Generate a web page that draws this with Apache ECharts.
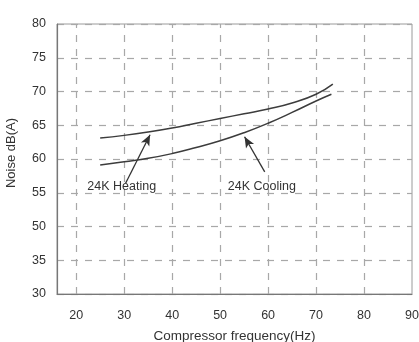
<!DOCTYPE html>
<html><head><meta charset="utf-8">
<script src="https://cdn.jsdelivr.net/npm/echarts@6/dist/echarts.min.js"></script>
<style>html,body{margin:0;padding:0;background:#fff}#c{width:419px;height:342px}</style>
</head><body><div id="c"></div>
<script>
const xTicks = [20, 30, 40, 50, 60, 70, 80, 90];
const xGrid = [20, 30, 40, 50, 60, 70, 80];
const yTickLabels = ['30', '35', '50', '55', '60', '65', '70', '75', '80'];
const heating = [[25,63.1],[30,63.5],[35,64.0],[40,64.6],[45,65.3],[50,66.0],[55,66.7],[60,67.4],[65,68.3],[70,69.6],[73.5,71.1]];
const cooling = [[25,59.1],[30,59.6],[35,60.1],[40,60.8],[45,61.7],[50,62.7],[55,63.9],[60,65.3],[65,66.9],[70,68.6],[73.2,69.6]];
const heatingLabel = {text: '24K Heating', at: [29.5, 55.85], arrowFrom: [30.3, 56.4], arrowTo: [35.4, 63.6]};
const coolingLabel = {text: '24K Cooling', at: [58.7, 55.85], arrowFrom: [59.3, 58.1], arrowTo: [55.1, 63.3]};

const font = 'Liberation Sans, Arial, sans-serif';
const chart = echarts.init(document.getElementById('c'), null, {renderer: 'canvas'});
const lineColor = '#3c3c3c';
function annot(a) {
  return {
    markLine: {
      silent: true, symbol: ['none', 'arrow'], symbolSize: [7, 11],
      lineStyle: {color: '#333', width: 1.3, type: 'solid'},
      label: {show: false},
      data: [[{coord: a.arrowFrom}, {coord: a.arrowTo}]]
    },
    markPoint: {
      silent: true, symbol: 'circle', symbolSize: 0,
      label: {show: true, position: 'inside', formatter: a.text, color: '#333', fontSize: 12.5, fontFamily: font},
      data: [{coord: a.at}]
    }
  };
}
chart.setOption({
  animation: false,
  grid: {left: 57, right: 7, top: 24, bottom: 48, containLabel: false, outerBoundsMode: 'none',
    show: true, borderColor: '#9a9a9a', borderWidth: 1},
  xAxis: {
    type: 'value', min: 16, max: 90,
    name: 'Compressor frequency(Hz)', nameLocation: 'middle', nameGap: 35,
    nameTextStyle: {color: '#333', fontSize: 13.5, fontFamily: font},
    axisLine: {show: true, lineStyle: {color: '#777', width: 1.2}},
    axisTick: {show: false},
    axisLabel: {customValues: xTicks, color: '#333', fontSize: 12.5, fontFamily: font, margin: 15},
    splitLine: {show: false}
  },
  yAxis: {
    type: 'value', min: 40, max: 80, interval: 5,
    axisLine: {show: true, lineStyle: {color: '#777', width: 1.2}},
    axisTick: {show: false},
    axisLabel: {color: '#333', fontSize: 12.5, fontFamily: font, margin: 11,
      formatter: v => yTickLabels[Math.round((v - 40) / 5)]},
    splitLine: {show: true, lineStyle: {color: '#a8a8a8', width: 1.2, type: [7, 7]}}
  },
  graphic: [{
    type: 'text', left: 5, top: 118, rotation: Math.PI / 2,
    style: {text: 'Noise dB(A)', fill: '#333', font: '13px ' + font}
  }],
  series: [
    Object.assign({
      type: 'line', data: heating, smooth: true, showSymbol: false,
      lineStyle: {color: lineColor, width: 1.5}, itemStyle: {color: lineColor}, z: 5
    }, annot(heatingLabel)),
    Object.assign({
      type: 'line', data: cooling, smooth: true, showSymbol: false,
      lineStyle: {color: lineColor, width: 1.5}, itemStyle: {color: lineColor}, z: 5
    }, annot(coolingLabel)),
    {
      type: 'line', data: [], silent: true,
      markLine: {
        silent: true, symbol: 'none', label: {show: false},
        lineStyle: {color: '#a8a8a8', width: 1.2, type: [7, 7]},
        data: xGrid.map(v => ({xAxis: v}))
      }
    }
  ]
});
</script></body></html>
